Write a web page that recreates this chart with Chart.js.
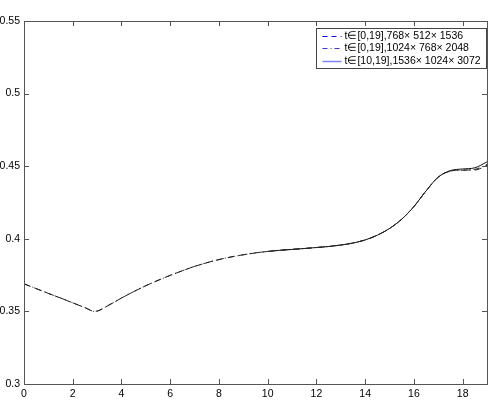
<!DOCTYPE html>
<html><head><meta charset="utf-8">
<script src="https://cdn.jsdelivr.net/npm/chart.js@4.4.0/dist/chart.umd.min.js"></script>
<style>html,body{margin:0;padding:0;background:#fff;overflow:hidden;}</style>
</head><body><canvas id="c" width="491" height="401"></canvas>
<script>
const tValues = [0,0.5,1,1.5,2,2.5,2.9,3.5,4,4.5,5,5.5,6,6.5,7,7.5,8,8.5,9,9.5,10,10.5,11,11.5,12,12.5,13,13.5,14,14.5,15,15.5,16,16.5,17,17.5,18,18.5,19];
const series1 = [0.3690,0.3657,0.3624,0.3592,0.3559,0.3526,0.3500,0.3545,0.3592,0.3636,0.3677,0.3714,0.3748,0.3780,0.3810,0.3835,0.3857,0.3875,0.3890,0.3903,0.3913,0.3921,0.3927,0.3933,0.3940,0.3947,0.3957,0.3971,0.3992,0.4025,0.4071,0.4135,0.4222,0.4330,0.4425,0.4466,0.4474,0.4474,0.4506];
const series2 = [0.3690,0.3657,0.3624,0.3592,0.3559,0.3526,0.3500,0.3545,0.3592,0.3636,0.3677,0.3714,0.3748,0.3780,0.3810,0.3835,0.3857,0.3875,0.3890,0.3903,0.3913,0.3921,0.3927,0.3933,0.3940,0.3947,0.3957,0.3971,0.3992,0.4025,0.4071,0.4135,0.4222,0.4330,0.4425,0.4467,0.4472,0.4478,0.4512];
const tValues3 = [10,10.5,11,11.5,12,12.5,13,13.5,14,14.5,15,15.5,16,16.5,17,17.5,18,18.5,19];
const series3 = [0.3913,0.3921,0.3927,0.3933,0.3940,0.3947,0.3957,0.3971,0.3992,0.4025,0.4071,0.4135,0.4222,0.4330,0.4425,0.4470,0.4481,0.4489,0.4530];
const seriesLabels = ['t\u2208[0,19],768\u00d7 512\u00d7 1536','t\u2208[0,19],1024\u00d7 768\u00d7 2048','t\u2208[10,19],1536\u00d7 1024\u00d7 3072'];
const xTicks = [0,2,4,6,8,10,12,14,16,18];
const yTicks = [0.3,0.35,0.4,0.45,0.5,0.55];
const yTickLabels = ['0.3','0.35','0.4','0.45','0.5','0.55'];

const legendStyles = [
  {color:'#0000ff', dash:[5,4]},
  {color:'#3a3ad0', dash:[5,3,1,3]},
  {color:'#8080ff', dash:[]}
];
const FONT = '"Liberation Sans", Arial, Helvetica, sans-serif';

const boxPlugin = {
  id:'box',
  afterDatasetsDraw(chart){
    const {ctx, chartArea:a, scales:{x,y}} = chart;
    ctx.save();
    ctx.strokeStyle = '#555';
    ctx.lineWidth = 1;
    ctx.setLineDash([]);
    ctx.strokeRect(Math.round(a.left)+0.5, Math.round(a.top)+0.5, Math.round(a.right-a.left), Math.round(a.bottom-a.top));
    const tl = 5;
    ctx.beginPath();
    xTicks.forEach(v=>{
      const px = Math.round(x.getPixelForValue(v))+0.5;
      ctx.moveTo(px, a.bottom); ctx.lineTo(px, a.bottom-tl);
      ctx.moveTo(px, a.top); ctx.lineTo(px, a.top+tl);
    });
    yTicks.forEach(v=>{
      const py = Math.round(y.getPixelForValue(v))+0.5;
      ctx.moveTo(a.left, py); ctx.lineTo(a.left+tl, py);
      ctx.moveTo(a.right, py); ctx.lineTo(a.right-tl, py);
    });
    ctx.stroke();
    // legend
    const bw = 170, bh = 40;
    const bx = Math.round(a.right) - 1 - bw + 0.5, by = Math.round(a.top) + 7 + 0.5;
    ctx.fillStyle = '#fff';
    ctx.fillRect(bx, by, bw, bh);
    ctx.strokeStyle = '#444';
    ctx.strokeRect(bx, by, bw, bh);
    ctx.font = '10.5px ' + FONT;
    ctx.textBaseline = 'middle';
    chart.data.datasets.forEach((ds,i)=>{
      const ry = Math.round(by + 7 + i*12.5) + 0.5;
      const st = legendStyles[i];
      ctx.strokeStyle = st.color;
      ctx.lineWidth = i===2 ? 1.5 : 1;
      ctx.setLineDash(st.dash);
      ctx.beginPath(); ctx.moveTo(bx+6, ry); ctx.lineTo(bx+25, ry); ctx.stroke();
      ctx.setLineDash([]);
      ctx.fillStyle = '#000';
      ctx.fillText(ds.label, bx+28, ry);
    });
    ctx.restore();
  }
};

new Chart(document.getElementById('c'), {
  type:'line',
  data:{
    datasets:[
      {label:seriesLabels[0], data:tValues.map((t,i)=>({x:t,y:series1[i]})), borderColor:'#222', borderWidth:1, borderDash:[7,4]},
      {label:seriesLabels[1], data:tValues.map((t,i)=>({x:t,y:series2[i]})), borderColor:'#222', borderWidth:1, borderDash:[6,3,1,3]},
      {label:seriesLabels[2], data:tValues3.map((t,i)=>({x:t,y:series3[i]})), borderColor:'#111', borderWidth:1, borderDash:[]}
    ]
  },
  options:{
    responsive:false, animation:false, devicePixelRatio:1,
    layout:{padding:{top:21,right:4,left:0,bottom:0}},
    elements:{point:{radius:0}, line:{cubicInterpolationMode:'monotone', fill:false}},
    plugins:{legend:{display:false}, tooltip:{enabled:false}},
    scales:{
      x:{type:'linear', min:0, max:19,
        afterBuildTicks:s=>{s.ticks = xTicks.map(v=>({value:v}));},
        afterFit:s=>{s.height = 17;},
        grid:{display:false, drawTicks:false}, border:{display:false},
        ticks:{color:'#000', font:{family:FONT,size:10.5}, padding:4, maxRotation:0, autoSkip:false, callback:v=>String(v)}},
      y:{type:'linear', min:0.3, max:0.55,
        afterBuildTicks:s=>{s.ticks = yTicks.map(v=>({value:v}));},
        afterFit:s=>{s.width = 24;},
        grid:{display:false, drawTicks:false}, border:{display:false},
        ticks:{color:'#000', font:{family:FONT,size:10.5}, padding:4, autoSkip:false,
          callback:(v,i)=>yTickLabels[i]}}
    }
  },
  plugins:[boxPlugin]
});
</script>
</body></html>
